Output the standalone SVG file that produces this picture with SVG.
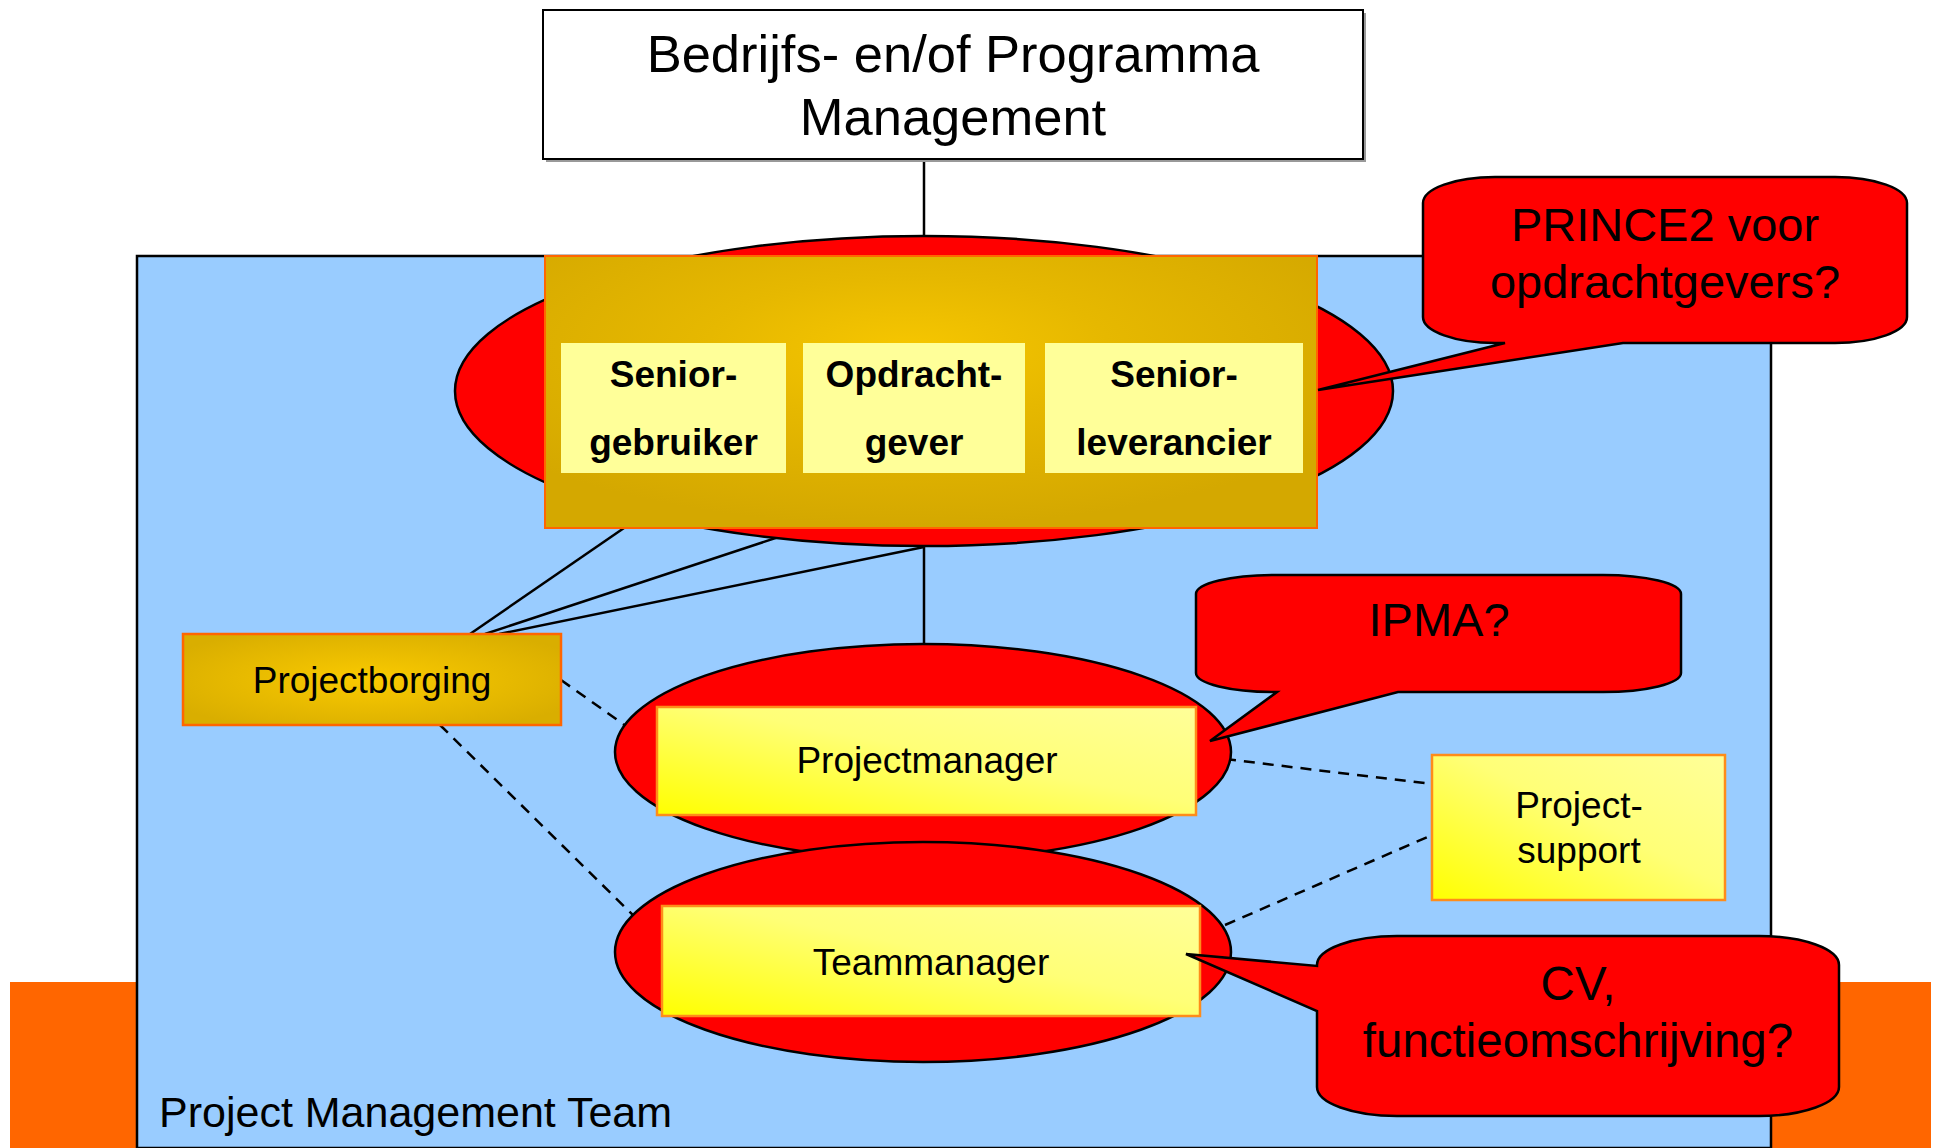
<svg xmlns="http://www.w3.org/2000/svg" width="1934" height="1148" viewBox="0 0 1934 1148">
<defs>
<style>
.t{font-family:"Liberation Sans",Arial,sans-serif;fill:#000;text-anchor:middle}
.b{font-weight:bold}
.red{fill:#FF0000;stroke:#000;stroke-width:2.5}
.conn{stroke:#000;stroke-width:2.5;fill:none}
.dash{stroke:#000;stroke-width:2.5;fill:none;stroke-dasharray:11 8}
.pale{fill:#FFFF99}
.ybox{fill:url(#yg);stroke:#FF8C1A;stroke-width:2.5}
.bubble{fill:#FF0000;stroke:#000;stroke-width:2.5;stroke-linejoin:miter}
</style>
<radialGradient id="gold" cx="0.47" cy="0.34" r="0.65">
<stop offset="0" stop-color="#F6C600"/>
<stop offset="0.4" stop-color="#E6B800"/>
<stop offset="1" stop-color="#D4A800"/>
</radialGradient>
<radialGradient id="gold2" cx="0.5" cy="0.5" r="0.6">
<stop offset="0" stop-color="#FACA00"/>
<stop offset="1" stop-color="#D9AE00"/>
</radialGradient>
<linearGradient id="yg" x1="0" y1="1" x2="1" y2="0">
<stop offset="0" stop-color="#FFFF00"/>
<stop offset="0.55" stop-color="#FFFF77"/>
<stop offset="1" stop-color="#FFFF99"/>
</linearGradient>
</defs>

<rect id="band" x="10" y="982" width="1921" height="166" fill="#FF6600"/>

<g id="pmt">
<rect x="137" y="256" width="1634" height="892" fill="#99CCFF" stroke="#000" stroke-width="2.5"/>
<text class="t" x="159" y="1127" font-size="43" style="text-anchor:start">Project Management Team</text>
</g>

<g id="connectors">
<line class="conn" x1="924" y1="159" x2="924" y2="300"/>
<line class="conn" x1="924" y1="500" x2="924" y2="700"/>
<line class="conn" x1="470" y1="634" x2="640" y2="517"/>
<line class="conn" x1="485" y1="634" x2="800" y2="530"/>
<line class="conn" x1="499" y1="634" x2="924" y2="547"/>
<line class="dash" x1="561" y1="680" x2="640" y2="736"/>
<line class="dash" x1="440" y1="725" x2="640" y2="922"/>
<line class="dash" x1="1225" y1="759" x2="1432" y2="784"/>
<line class="dash" x1="1225" y1="925" x2="1432" y2="835"/>
</g>

<g id="top-mgmt">
<rect x="546" y="13" width="820" height="149" fill="#999"/>
<rect x="543" y="10" width="820" height="149" fill="#fff" stroke="#000" stroke-width="2"/>
<text class="t" x="953" y="72" font-size="52.5">Bedrijfs- en/of Programma</text>
<text class="t" x="953" y="135" font-size="52.5">Management</text>
</g>

<g id="stuurgroep">
<ellipse class="red" cx="924" cy="391" rx="469" ry="155"/>
<rect x="545" y="256" width="772" height="272" fill="url(#gold)" stroke="#FF6600" stroke-width="2"/>
</g>

<g id="senior-gebruiker">
<rect class="pale" x="561" y="343" width="225" height="130"/>
<text class="t b" x="673.5" y="387" font-size="37">Senior-</text>
<text class="t b" x="673.5" y="455" font-size="37">gebruiker</text>
</g>
<g id="opdrachtgever">
<rect class="pale" x="803" y="343" width="222" height="130"/>
<text class="t b" x="914" y="387" font-size="37">Opdracht-</text>
<text class="t b" x="914" y="455" font-size="37">gever</text>
</g>
<g id="senior-leverancier">
<rect class="pale" x="1045" y="343" width="258" height="130"/>
<text class="t b" x="1174" y="387" font-size="37">Senior-</text>
<text class="t b" x="1174" y="455" font-size="37">leverancier</text>
</g>

<g id="projectborging">
<rect x="183" y="634" width="378" height="91" fill="url(#gold2)" stroke="#FF6600" stroke-width="2.5"/>
<text class="t" x="372" y="693" font-size="37">Projectborging</text>
</g>

<g id="projectmanager">
<ellipse class="red" cx="923" cy="752" rx="308" ry="108"/>
</g>
<g id="teammanager">
<ellipse class="red" cx="923" cy="952" rx="308" ry="110"/>
</g>
<g id="projectmanager-box">
<rect class="ybox" x="657" y="707" width="539" height="108"/>
<text class="t" x="927" y="773" font-size="37">Projectmanager</text>
</g>
<g id="teammanager-box">
<rect class="ybox" x="662" y="906" width="538" height="110"/>
<text class="t" x="931" y="975" font-size="37">Teammanager</text>
</g>

<g id="projectsupport">
<rect class="ybox" x="1432" y="755" width="293" height="145"/>
<text class="t" x="1579" y="818" font-size="37">Project-</text>
<text class="t" x="1579" y="863" font-size="37">support</text>
</g>

<g id="bubble-prince2">
<path class="bubble" d="M1495,177 H1835 A72 26 0 0 1 1907,203 V317 A72 26 0 0 1 1835,343 H1623 L1318,390 L1505,343 H1495 A72 26 0 0 1 1423,317 V203 A72 26 0 0 1 1495,177 Z"/>
<text class="t" x="1665" y="241" font-size="47">PRINCE2 voor</text>
<text class="t" x="1665" y="298" font-size="47">opdrachtgevers?</text>
</g>

<g id="bubble-ipma">
<path class="bubble" d="M1274,575 H1603 A78 19 0 0 1 1681,594 V673 A78 19 0 0 1 1603,692 H1398 L1210,741 L1277,692 H1274 A78 19 0 0 1 1196,673 V594 A78 19 0 0 1 1274,575 Z"/>
<text class="t" x="1439" y="636" font-size="47">IPMA?</text>
</g>

<g id="bubble-cv">
<path class="bubble" d="M1397,936 H1759 A80 29 0 0 1 1839,965 V1087 A80 29 0 0 1 1759,1116 H1397 A80 29 0 0 1 1317,1087 V1011 L1186,954 L1317,966 V965 A80 29 0 0 1 1397,936 Z"/>
<text class="t" x="1578" y="1000" font-size="47.5">CV,</text>
<text class="t" x="1578" y="1057" font-size="47.5">functieomschrijving?</text>
</g>
</svg>
